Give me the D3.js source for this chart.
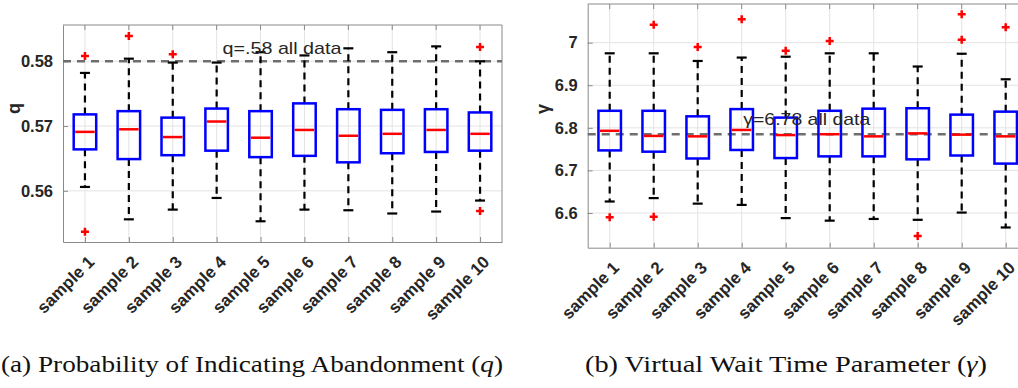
<!DOCTYPE html>
<html>
<head>
<meta charset="utf-8">
<script src="https://cdn.jsdelivr.net/npm/d3@7"></script>
<style>
  body { margin: 0; background: #fff; }
  svg { display: block; }
  .sans { font-family: "Liberation Sans", Arial, Helvetica, sans-serif; }
  .serif { font-family: "Liberation Serif", "Times New Roman", Times, serif; }
</style>
</head>
<body>
<svg id="chart" width="1018" height="388"></svg>
<script>
// sample names shared by both panels
const samples = ["sample 1", "sample 2", "sample 3", "sample 4", "sample 5",
                 "sample 6", "sample 7", "sample 8", "sample 9", "sample 10"]

// panel (a): q box stats
const qLowWhisker = [0.5606, 0.5556, 0.5571, 0.5589, 0.5553, 0.5571, 0.5570, 0.5565, 0.5568, 0.5585]
const qQ1         = [0.5664, 0.5649, 0.5655, 0.5662, 0.5652, 0.5654, 0.5644, 0.5658, 0.5660, 0.5662]
const qMedian     = [0.5691, 0.5695, 0.5683, 0.5707, 0.5682, 0.5694, 0.5685, 0.5688, 0.5694, 0.5688]
const qQ3         = [0.5718, 0.5723, 0.5713, 0.5727, 0.5723, 0.5735, 0.5726, 0.5725, 0.5726, 0.5721]
const qHighWhisker = [0.5782, 0.5804, 0.5798, 0.5798, 0.5814, 0.5809, 0.5820, 0.5814, 0.5823, 0.5800]
const qOutliers   = [[0.5808, 0.5537], [0.5839], [0.5811], [], [], [], [], [], [], [0.5822, 0.5569]]
const qTicks = [0.56, 0.57, 0.58]
const qRef = 0.58

// panel (b): gamma box stats
const gLowWhisker = [6.627, 6.635, 6.622, 6.619, 6.588, 6.582, 6.586, 6.584, 6.601, 6.566]
const gQ1         = [6.747, 6.744, 6.728, 6.748, 6.729, 6.733, 6.733, 6.726, 6.735, 6.716]
const gMedian     = [6.793, 6.781, 6.780, 6.795, 6.783, 6.785, 6.780, 6.787, 6.784, 6.780]
const gQ3         = [6.840, 6.840, 6.827, 6.844, 6.824, 6.840, 6.845, 6.846, 6.831, 6.838]
const gHighWhisker = [6.975, 6.975, 6.957, 6.965, 6.967, 6.975, 6.975, 6.944, 6.974, 6.914]
const gOutliers   = [[6.590], [7.042, 6.591], [6.990], [7.055], [6.981], [7.004], [], [6.546], [7.067, 7.007], [7.036]]
const gTicks = [6.6, 6.7, 6.8, 6.9, 7]
const gRef = 6.785

const svg = d3.select("#chart")

function drawPanel(opts) {
    const x = d3.scaleLinear().domain([0.5, 10.5]).range([opts.left, opts.right])
    const y = d3.scaleLinear().domain(opts.yDomain).range([opts.bottom, opts.top])
    const g = svg.append("g")

    // grid lines
    g.selectAll(".ygrid").data(opts.ticks).join("line")
        .attr("x1", opts.left).attr("x2", opts.right)
        .attr("y1", d => y(d)).attr("y2", d => y(d))
        .attr("stroke", "#e3e3e3").attr("stroke-width", 1)
    g.selectAll(".xgrid").data(samples).join("line")
        .attr("x1", (d, i) => x(i + 1)).attr("x2", (d, i) => x(i + 1))
        .attr("y1", opts.top).attr("y2", opts.bottom)
        .attr("stroke", "#e3e3e3").attr("stroke-width", 1)

    // axes (matlab style, ticks inward)
    const axL = g.append("g").attr("transform", "translate(" + opts.left + ",0)")
        .call(d3.axisLeft(y).tickValues(opts.ticks).tickSizeInner(-5).tickSizeOuter(0).tickPadding(10)
            .tickFormat(opts.tickFormat))
    axL.attr("font-family", null)
    axL.select(".domain").attr("stroke", "#8a8a8a")
    axL.selectAll(".tick line").attr("stroke", "#8a8a8a")
    axL.selectAll("text").attr("class", "sans")
        .attr("font-weight", "bold").attr("font-size", "16.5px").attr("fill", "#262626")

    const axB = g.append("g").attr("transform", "translate(0," + opts.bottom + ")")
        .call(d3.axisBottom(x).tickValues(d3.range(1, 11)).tickSizeInner(-5).tickSizeOuter(0)
            .tickFormat(d => samples[d - 1]))
    axB.attr("font-family", null)
    axB.select(".domain").attr("stroke", "#8a8a8a")
    axB.selectAll(".tick line").attr("stroke", "#8a8a8a")
    axB.selectAll("text").attr("class", "sans")
        .attr("font-weight", "bold").attr("font-size", "17px").attr("fill", "#262626")
        .attr("text-anchor", "end").attr("dy", 0).attr("y", 0)
        .attr("transform", "translate(10,21) rotate(-45)")

    // top and right border
    g.append("line").attr("x1", opts.left).attr("x2", opts.right)
        .attr("y1", opts.top).attr("y2", opts.top).attr("stroke", "#8a8a8a")
    g.append("line").attr("x1", opts.right).attr("x2", opts.right)
        .attr("y1", opts.top).attr("y2", opts.bottom).attr("stroke", "#8a8a8a")
    g.selectAll(".ttick").data(d3.range(1, 11)).join("line")
        .attr("x1", d => x(d)).attr("x2", d => x(d))
        .attr("y1", opts.top).attr("y2", opts.top + 5).attr("stroke", "#8a8a8a")

    // y axis label
    g.append("text").attr("class", "sans")
        .attr("transform", "translate(" + opts.labelX + "," + opts.labelY + ") rotate(-90)")
        .attr("text-anchor", "middle")
        .attr("font-weight", "bold").attr("font-size", "18px").attr("fill", "#262626")
        .text(opts.label)

    // reference line
    g.append("line").attr("x1", opts.left).attr("x2", opts.right)
        .attr("y1", y(opts.ref)).attr("y2", y(opts.ref))
        .attr("stroke", "#6e6e6e").attr("stroke-width", 2.5).attr("stroke-dasharray", "8,6")

    const boxW = 22.5, capW = 10
    const idx = d3.range(samples.length)

    // whiskers
    g.selectAll(".wup").data(idx).join("line")
        .attr("x1", i => x(i + 1)).attr("x2", i => x(i + 1))
        .attr("y1", i => y(opts.q3[i])).attr("y2", i => y(opts.hi[i]))
        .attr("stroke", "#000").attr("stroke-width", 2.2).attr("stroke-dasharray", "7,5")
    g.selectAll(".wlo").data(idx).join("line")
        .attr("x1", i => x(i + 1)).attr("x2", i => x(i + 1))
        .attr("y1", i => y(opts.q1[i])).attr("y2", i => y(opts.lo[i]))
        .attr("stroke", "#000").attr("stroke-width", 2.2).attr("stroke-dasharray", "7,5")
    g.selectAll(".caphi").data(idx).join("line")
        .attr("x1", i => x(i + 1) - capW / 2).attr("x2", i => x(i + 1) + capW / 2)
        .attr("y1", i => y(opts.hi[i])).attr("y2", i => y(opts.hi[i]))
        .attr("stroke", "#000").attr("stroke-width", 2.2)
    g.selectAll(".caplo").data(idx).join("line")
        .attr("x1", i => x(i + 1) - capW / 2).attr("x2", i => x(i + 1) + capW / 2)
        .attr("y1", i => y(opts.lo[i])).attr("y2", i => y(opts.lo[i]))
        .attr("stroke", "#000").attr("stroke-width", 2.2)

    // boxes
    g.selectAll(".box").data(idx).join("rect")
        .attr("x", i => x(i + 1) - boxW / 2).attr("width", boxW)
        .attr("y", i => y(opts.q3[i])).attr("height", i => y(opts.q1[i]) - y(opts.q3[i]))
        .attr("fill", "none").attr("stroke", "#0000ff").attr("stroke-width", 2.5)

    // medians
    g.selectAll(".med").data(idx).join("line")
        .attr("x1", i => x(i + 1) - boxW / 2 + 1.5).attr("x2", i => x(i + 1) + boxW / 2 - 1.5)
        .attr("y1", i => y(opts.med[i])).attr("y2", i => y(opts.med[i]))
        .attr("stroke", "#ff0000").attr("stroke-width", 2.5)

    // outliers as red plus signs
    const outs = []
    opts.outliers.forEach((arr, i) => arr.forEach(v => outs.push({ i: i, v: v })))
    g.selectAll(".out").data(outs).join("path")
        .attr("d", d => {
            const cx = x(d.i + 1), cy = y(d.v), r = 4
            return "M" + (cx - r) + "," + cy + "H" + (cx + r) + "M" + cx + "," + (cy - r) + "V" + (cy + r)
        })
        .attr("stroke", "#ff0000").attr("stroke-width", 2.5)

    // annotation
    g.append("text").attr("class", "sans")
        .attr("x", opts.noteX).attr("y", opts.noteY)
        .attr("font-size", "17px").attr("fill", "#262626")
        .attr("textLength", opts.noteW).attr("lengthAdjust", "spacingAndGlyphs")
        .text(opts.note)

    // caption, symbol in italics like the latex math
    const cap = svg.append("text").attr("class", "serif")
        .attr("x", opts.capX).attr("y", 372)
        .attr("font-size", "24px").attr("fill", "#111")
        .attr("textLength", opts.capW).attr("lengthAdjust", "spacingAndGlyphs")
    cap.append("tspan").text(opts.caption + " (")
    cap.append("tspan").attr("font-style", "italic").text(opts.symbol)
    cap.append("tspan").text(")")
}

drawPanel({
    left: 63, right: 502, top: 25, bottom: 242,
    yDomain: [0.5521, 0.5856], ticks: qTicks, tickFormat: d3.format(".2f"),
    lo: qLowWhisker, q1: qQ1, med: qMedian, q3: qQ3, hi: qHighWhisker, outliers: qOutliers,
    ref: qRef, note: "q=.58 all data", noteX: 222.5, noteY: 53.5, noteW: 119,
    label: "q", labelX: 20, labelY: 108.5,
    caption: "(a) Probability of Indicating Abandonment", symbol: "q", capX: 1, capW: 502
})

drawPanel({
    left: 587.7, right: 1027.7, top: 4, bottom: 247.7,
    yDomain: [6.5185, 7.0908], ticks: gTicks, tickFormat: d => d3.format(".1~f")(d),
    lo: gLowWhisker, q1: gQ1, med: gMedian, q3: gQ3, hi: gHighWhisker, outliers: gOutliers,
    ref: gRef, note: "γ=6.78 all data", noteX: 743.3, noteY: 125, noteW: 127,
    label: "γ", labelX: 549, labelY: 109,
    caption: "(b) Virtual Wait Time Parameter", symbol: "γ", capX: 585, capW: 402
})
</script>
</body>
</html>
